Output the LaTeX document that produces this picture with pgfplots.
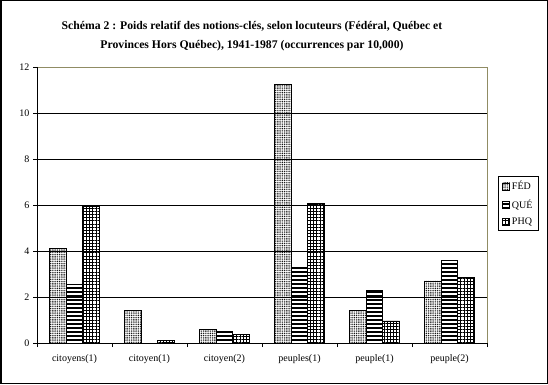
\documentclass[border=0pt]{standalone}
\usepackage{fontspec}
\setmainfont{Liberation Serif}
\usepackage{pgfplots}
\pgfplotsset{compat=1.18}
\usetikzlibrary{patterns.meta}
\begin{document}
\begin{tikzpicture}[x=1bp,y=1bp]
\useasboundingbox (0,0) rectangle (548,384);
\draw[line width=1.5bp] (0.75,0.75) rectangle (547.25,383.25);
\node[font=\bfseries\fontsize{11.7bp}{19.5bp}\selectfont, align=center] at (252,348)
  {Schéma 2 : Poids relatif des notions-clés, selon locuteurs (Fédéral, Québec et\\Provinces Hors Québec), 1941-1987 (occurrences par 10,000)};
\begin{axis}[
  at={(37bp,41bp)}, anchor=south west,
  scale only axis, width=450bp, height=276bp,
  xmin=-0.5, xmax=5.5, ymin=0, ymax=12,
  ybar=0pt, bar width=16.7bp,
  axis line style={draw=gray!70!olive, line width=0.8bp},
  ytick={0,2,...,12}, ytick pos=left, xtick pos=bottom,
  ymajorgrids, grid style={black, line width=0.8bp},
  tick align=outside, major tick length=4bp,
  tick style={black, line width=0.8bp},
  xtick={0,...,5},
  xticklabels={citoyens(1),citoyen(1),citoyen(2),peuples(1),peuple(1),peuple(2)},
  major x tick style={draw=none},
  extra x ticks={-0.5,0.5,1.5,2.5,3.5,4.5,5.5},
  extra x tick labels={},
  extra x tick style={grid=none, major x tick style={draw=black}},
  ticklabel style={font=\fontsize{10bp}{11bp}\selectfont},
  /pgf/number format/assume math mode=true,
  xticklabel style={yshift=-4bp},
  legend style={at={(1.0244,0.605)}, anchor=north west, draw=black, line width=0.8bp,
    font=\fontsize{10bp}{11bp}\selectfont, row sep=4bp, inner xsep=4bp, inner ysep=3bp},
  legend cell align=left,
  legend image code/.code={\draw[#1, draw=black, line width=0.6bp] (0bp,-3.5bp) rectangle (7bp,3.5bp);},
  every axis plot/.append style={draw=black, line width=0.8bp},
]
\addplot[pattern={Dots[distance=1.8bp, radius=0.6bp]}, pattern color=black]
  coordinates {(0,4.13) (1,1.42) (2,0.57) (3,11.26) (4,1.43) (5,2.70)};
\addplot[pattern={Lines[angle=0, distance=4bp, line width=2.2bp]}, pattern color=black]
  coordinates {(0,2.55) (1,0) (2,0.49) (3,3.27) (4,2.30) (5,3.57)};
\addplot[pattern={Hatch[angle=0, distance=3.2bp, line width=0.7bp]}, pattern color=black]
  coordinates {(0,5.94) (1,0.12) (2,0.38) (3,6.07) (4,0.96) (5,2.86)};
\legend{FÉD,QUÉ,PHQ}
\draw[black, line width=0.8bp] (rel axis cs:0,1) -- (rel axis cs:0,0) -- (rel axis cs:1,0);
\end{axis}
\end{tikzpicture}
\end{document}
